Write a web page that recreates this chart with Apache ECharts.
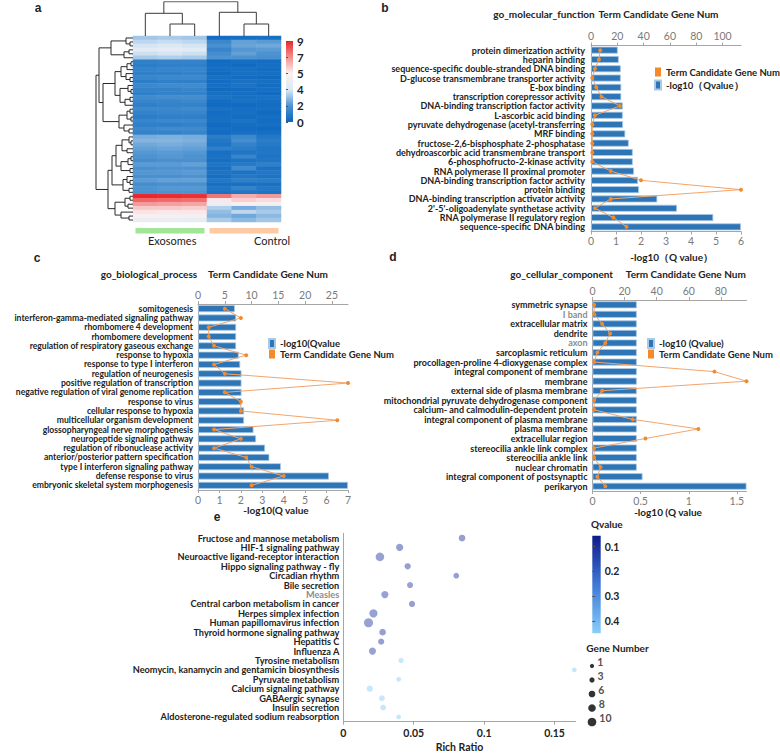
<!DOCTYPE html>
<html>
<head>
<meta charset="utf-8">
<title>Exosome enrichment figure</title>
<script src="https://cdn.jsdelivr.net/npm/echarts@6/dist/echarts.min.js"></script>
<style>
html, body { margin: 0; padding: 0; background: #fff; }
#chart { width: 780px; height: 753px; }
</style>
</head>
<body>
<div id="chart"></div>
<script>
// ---------- data ----------
// panel a: heatmap rows (Exo x3, Control x3)
const heatSamples = ['Exo1', 'Exo2', 'Exo3', 'Ctl1', 'Ctl2', 'Ctl3'];
const heatRows = [
  [3.2, 3.3, 3.2, 0.4, 0.5, 0.6],
  [3.6, 3.7, 3.6, 1.6, 2.3, 2.2],
  [3.9, 4.0, 3.9, 1.9, 2.4, 2.5],
  [4.2, 4.3, 4.2, 1.5, 2.1, 2.2],
  [3.8, 3.9, 3.8, 1.8, 2.3, 2.0],
  [3.3, 3.4, 3.3, 2.0, 2.0, 1.9],
  [1.3, 1.4, 1.4, 0.3, 0.5, 0.4],
  [1.2, 1.3, 1.3, 0.4, 0.3, 0.5],
  [1.4, 1.5, 1.5, 0.5, 0.6, 0.4],
  [1.3, 1.3, 1.4, 0.3, 0.6, 0.5],
  [1.5, 1.6, 1.6, 0.6, 0.4, 0.3],
  [1.2, 1.3, 1.3, 0.4, 0.7, 0.6],
  [1.6, 1.7, 1.7, 0.5, 0.8, 0.4],
  [1.4, 1.4, 1.5, 0.3, 0.4, 0.5],
  [1.3, 1.4, 1.4, 0.6, 0.5, 0.3],
  [1.7, 1.8, 1.8, 0.8, 0.6, 0.7],
  [1.5, 1.5, 1.6, 0.4, 0.7, 0.5],
  [1.3, 1.4, 1.4, 0.3, 0.3, 0.4],
  [1.6, 1.6, 1.7, 0.7, 0.5, 0.6],
  [1.4, 1.5, 1.5, 0.4, 0.6, 0.3],
  [1.2, 1.3, 1.3, 0.5, 0.4, 0.5],
  [1.5, 1.6, 1.6, 0.6, 0.8, 0.4],
  [1.3, 1.3, 1.4, 0.3, 0.5, 0.6],
  [1.6, 1.7, 1.7, 0.5, 0.4, 0.3],
  [1.4, 1.4, 1.5, 0.4, 0.6, 0.5],
  [2.6, 2.7, 2.6, 1.2, 1.6, 1.0],
  [2.8, 2.8, 2.7, 1.0, 1.8, 1.2],
  [2.5, 2.6, 2.5, 0.8, 1.4, 1.1],
  [2.3, 2.4, 2.3, 1.3, 1.2, 0.9],
  [2.1, 2.2, 2.1, 0.6, 0.9, 1.0],
  [2.0, 2.1, 2.0, 0.7, 1.5, 0.8],
  [1.8, 1.9, 1.9, 0.5, 0.8, 0.9],
  [2.2, 2.2, 2.3, 0.9, 1.1, 1.3],
  [1.9, 2.0, 2.0, 0.6, 1.7, 0.7],
  [2.1, 2.1, 2.2, 0.8, 0.7, 1.0],
  [1.9, 1.9, 2.0, 0.5, 1.0, 0.8],
  [2.2, 2.3, 2.3, 1.0, 1.3, 1.2],
  [1.8, 1.9, 1.9, 0.6, 0.6, 0.7],
  [2.0, 2.1, 2.1, 0.9, 1.4, 1.0],
  [1.9, 2.0, 2.0, 0.7, 0.9, 0.8],
  [9.0, 8.9, 8.8, 7.5, 6.5, 6.8],
  [7.8, 7.7, 7.6, 5.2, 5.8, 5.5],
  [6.8, 6.7, 6.6, 4.6, 4.9, 4.8],
  [5.9, 5.9, 5.8, 3.4, 2.6, 3.0],
  [5.3, 5.2, 5.2, 3.0, 3.6, 3.3],
  [4.9, 4.8, 4.8, 2.8, 2.5, 2.9],
  [4.5, 4.5, 4.4, 3.3, 2.9, 3.2]
];
const heatLegendTicks = ['0', '2', '4', '5', '7', '9'];
const heatColors = ['#0a66bf', '#2277c6', '#4d93d1', '#93bde3', '#dce9f5',
  '#fcf0f0', '#f9c5c5', '#f48f8f', '#ef5a5a', '#e9262a'];
// dendrograms: [mergeHeight, left, right], leaves are column / row indices
const topTree = [34.3, [22.7, 0, [12, 1, 2]], [23.7, 3, [12, 4, 5]]];
const leftTree = [37,
  [34,
    [22, [7, 0, [3, 1, 2]], [9, [4, 3, 4], 5]],
    [30,
      [18,
        [12, [6, [2, 6, 7], 8], [7, 9, [3, 10, 11]]],
        [13, [5, 12, [2, 13, 14]], [8, [3, 15, 16], 17]]],
      [14, [6, [3, 18, 19], [2, 20, 21]], [9, 22, [4, 23, 24]]]]],
  [25,
    [21,
      [17,
        [11, [4, 25, [2, 26, 27]], [6, 28, 29]],
        [12, [5, [2, 30, 31], 32], [3, 33, 34]]],
      [10, [6, 35, [3, 36, 37]], [4, 38, 39]]],
    [18, [8, [3, 40, 41], [5, 42, 43]], [12, 44, [4, 45, 46]]]]];
const groups = ['Exosomes', 'Control'];
const groupColors = ['#a2e596', '#fdcaa3'];

// panel b: go_molecular_function
const bTerms = ['protein dimerization activity', 'heparin binding',
  'sequence-specific double-stranded DNA binding', 'D-glucose transmembrane transporter activity',
  'E-box binding', 'transcription corepressor activity', 'DNA-binding transcription factor activity',
  'L-ascorbic acid binding', 'pyruvate dehydrogenase (acetyl-transferring', 'MRF binding',
  'fructose-2,6-bisphosphate 2-phosphatase', 'dehydroascorbic acid transmembrane transport',
  '6-phosphofructo-2-kinase activity', 'RNA polymerase II proximal promoter',
  'DNA-binding transcription factor activity', 'protein binding',
  'DNA-binding transcription activator activity', "2'-5'-oligoadenylate synthetase activity",
  'RNA polymerase II regulatory region', 'sequence-specific DNA binding'];
const bQ = [1.07, 1.11, 1.19, 1.19, 1.21, 1.21, 1.27, 1.27, 1.28, 1.37,
  1.51, 1.67, 1.67, 1.72, 1.88, 1.92, 2.65, 3.44, 4.89, 6.0];
const bGenes = [7, 6, 3, 1, 4, 8, 22, 3, 1, 1, 1, 1, 1, 15, 38, 114, 15, 3, 17, 27];

// panel c: go_biological_process
const cTerms = ['somitogenesis', 'interferon-gamma-mediated signaling pathway',
  'rhombomere 4 development', 'rhombomere development', 'regulation of respiratory gaseous exchange',
  'response to hypoxia', 'response to type I interferon', 'regulation of neurogenesis',
  'positive regulation of transcription', 'negative regulation of viral genome replication',
  'response to virus', 'cellular response to hypoxia', 'multicellular organism development',
  'glossopharyngeal nerve morphogenesis', 'neuropeptide signaling pathway',
  'regulation of ribonuclease activity', 'anterior/posterior pattern specification',
  'type I interferon signaling pathway', 'defense response to virus',
  'embryonic skeletal system morphogenesis'];
const cQ = [1.72, 1.78, 1.78, 1.78, 1.78, 1.9, 1.97, 2.03, 2.03, 2.03,
  2.03, 2.15, 2.15, 2.59, 2.71, 3.13, 3.33, 3.87, 6.11, 7.0];
const cGenes = [5, 8, 2, 2, 3, 9, 3, 5, 28, 5, 8, 8, 26, 3, 8, 3, 9, 10, 16, 10];

// panel d: go_cellular_component
const dTerms = ['symmetric synapse', 'I band', 'extracellular matrix', 'dendrite', 'axon',
  'sarcoplasmic reticulum', 'procollagen-proline 4-dioxygenase complex',
  'integral component of membrane', 'membrane', 'external side of plasma membrane',
  'mitochondrial pyruvate dehydrogenase component', 'calcium- and calmodulin-dependent protein',
  'integral component of plasma membrane', 'plasma membrane', 'extracellular region',
  'stereocilia ankle link complex', 'stereocilia ankle link', 'nuclear chromatin',
  'integral component of postsynaptic', 'perikaryon'];
const dQ = [0.46, 0.46, 0.46, 0.46, 0.46, 0.46, 0.46, 0.46, 0.46, 0.46,
  0.46, 0.46, 0.46, 0.46, 0.46, 0.46, 0.46, 0.46, 0.52, 1.6];
const dGenes = [1, 1, 6, 11, 8, 3, 1, 76, 96, 6, 1, 1, 25, 66, 33, 1, 1, 5, 3, 8];
const dGreyTerms = ['I band', 'axon'];

// panel e: KEGG bubbles
const ePaths = ['Fructose and mannose metabolism', 'HIF-1 signaling pathway',
  'Neuroactive ligand-receptor interaction', 'Hippo signaling pathway - fly', 'Circadian rhythm',
  'Bile secretion', 'Measles', 'Central carbon metabolism in cancer', 'Herpes simplex infection',
  'Human papillomavirus infection', 'Thyroid hormone signaling pathway', 'Hepatitis C',
  'Influenza A', 'Tyrosine metabolism', 'Neomycin, kanamycin and gentamicin biosynthesis',
  'Pyruvate metabolism', 'Calcium signaling pathway', 'GABAergic synapse', 'Insulin secretion',
  'Aldosterone-regulated sodium reabsorption'];
const eRatio = [0.0843, 0.040, 0.026, 0.0457, 0.0802, 0.0474, 0.0295, 0.0488, 0.0214, 0.0179,
  0.0279, 0.0269, 0.0207, 0.041, 0.164, 0.0393, 0.0188, 0.0274, 0.0283, 0.0393];
const eGenes = [6, 7, 10, 5, 4, 5, 7, 5, 9, 11, 6, 5, 7, 3, 2, 2, 5, 4, 4, 2];
const eQvalue = [0.09, 0.09, 0.1, 0.09, 0.09, 0.1, 0.1, 0.09, 0.1, 0.1,
  0.09, 0.09, 0.1, 0.44, 0.44, 0.44, 0.44, 0.44, 0.44, 0.44];
const eGreyPaths = ['Measles'];
const qTicks = [0.1, 0.2, 0.3, 0.4];
const geneLegend = [1, 3, 6, 8, 10];

// ---------- helpers ----------
const FONT = "Lato, 'DejaVu Sans Condensed', sans-serif";
const TXT = '#222';
const AXIS = '#a6a6a6';
const BLUE = '#2e75b6';
const ORANGE = '#f58a2a';

function dendroLinks(node, out) {
  if (typeof node === 'number') return { pos: node, h: 0 };
  const a = dendroLinks(node[1], out);
  const b = dendroLinks(node[2], out);
  out.push([[a.pos, a.h], [a.pos, node[0]], [b.pos, node[0]], [b.pos, b.h]]);
  return { pos: (a.pos + b.pos) / 2, h: node[0] };
}
const topLinks = [];
dendroLinks(topTree, topLinks);
const leftLinks = [];
dendroLinks(leftTree, leftLinks);

const heatData = [];
heatRows.forEach((row, r) => row.forEach((v, c) => heatData.push([c, r, v])));

const geneSize = n => 3.8 + 0.48 * n;

function txt(text, x, y, extra) {
  return {
    type: 'text', x: x, y: y, silent: true,
    style: Object.assign({
      text: text, fill: TXT, fontFamily: FONT, fontSize: 10, fontWeight: 'bold',
      align: 'center', verticalAlign: 'middle', textAlign: 'center', textVerticalAlign: 'middle'
    }, extra || {})
  };
}

const numLabel = { fontFamily: FONT, fontSize: 10.5, color: '#7a7a7a' };

function termAxis(grid, terms, margin, size, grey) {
  return {
    gridIndex: grid, type: 'category', data: terms, inverse: true,
    axisLine: { lineStyle: { color: AXIS } },
    axisTick: { alignWithLabel: true, length: 3, lineStyle: { color: AXIS } },
    axisLabel: {
      fontFamily: FONT, fontSize: size, fontWeight: 'bold',
      margin: margin, interval: 0,
      color: grey ? (v => grey.indexOf(v) >= 0 ? '#8c8c8c' : TXT) : TXT
    }
  };
}
function valAxis(grid, pos, max, interval, hideMax) {
  return {
    gridIndex: grid, type: 'value', position: pos, min: 0, max: max, interval: interval,
    splitLine: { show: false },
    axisLine: { show: true, lineStyle: { color: AXIS } },
    axisTick: { show: true, length: 3, lineStyle: { color: AXIS } },
    axisLabel: Object.assign({}, numLabel, { margin: 4, showMaxLabel: !hideMax })
  };
}
function barSeries(name, x, y, data) {
  return {
    type: 'bar', name: name, xAxisIndex: x, yAxisIndex: y, data: data, barWidth: 7,
    itemStyle: { color: BLUE, borderColor: '#a9c9e6', borderWidth: 0.8 }
  };
}
function lineSeries(x, y, data) {
  return {
    type: 'line', name: 'Term Candidate Gene Num', xAxisIndex: x, yAxisIndex: y, data: data,
    symbol: 'circle', symbolSize: 4, z: 3,
    lineStyle: { color: '#f2a56c', width: 1 },
    itemStyle: { color: ORANGE }
  };
}
function legendAt(names, left, top, lh) {
  return {
    data: names, left: left, top: top, orient: 'vertical', icon: 'rect', padding: 0,
    itemWidth: 6, itemHeight: 9, itemGap: 0, selectedMode: false,
    textStyle: { fontFamily: FONT, fontSize: 9.5, fontWeight: 'bold', color: TXT, lineHeight: lh }
  };
}
function gridAt(box) {
  return Object.assign({ outerBoundsMode: 'none', containLabel: false }, box);
}

// colour bars: gradient stops must run top (offset 0) to bottom (offset 1)
const heatGradient = {
  type: 'linear', x: 0, y: 0, x2: 0, y2: 1,
  colorStops: heatLegendTicks.slice().reverse().map((t, i) => ({
    offset: i / (heatLegendTicks.length - 1), color: heatColors[+t]
  }))
};
const qGradient = {
  type: 'linear', x: 0, y: 0, x2: 0, y2: 1,
  colorStops: [{ offset: 0, color: '#0d1a8c' }, { offset: 0.5, color: '#3f78d6' }, { offset: 1, color: '#87cefa' }]
};

const chart = echarts.init(document.getElementById('chart'), null, { renderer: 'svg' });

const option = {
  animation: false,
  backgroundColor: '#fff',
  grid: [
    gridAt({ left: 133, top: 36, width: 148, height: 186 }),              // 0 heatmap
    gridAt({ left: 133, top: 1.7, width: 148, height: 34.3 }),            // 1 top dendrogram
    gridAt({ left: 96, top: 36, width: 37, height: 186 }),                // 2 left dendrogram
    gridAt({ left: 286, top: 41, width: 7, height: 81, show: true, borderWidth: 0, backgroundColor: heatGradient }),
    gridAt({ left: 133, top: 228, width: 148, height: 5.5 }),             // 4 group bars
    gridAt({ left: 591, top: 45.5, width: 150, height: 186 }),            // 5 panel b
    gridAt({ left: 198, top: 304, width: 150, height: 186 }),             // 6 panel c
    gridAt({ left: 592.5, top: 300, width: 154, height: 191 }),           // 7 panel d
    gridAt({ left: 343.3, top: 533.3, width: 232.4, height: 188.4 }),     // 8 panel e
    gridAt({ left: 592.3, top: 535.7, width: 8.4, height: 97.6, show: true, borderWidth: 0, backgroundColor: qGradient }),
    gridAt({ left: 584, top: 659, width: 16, height: 70 })                // 10 gene legend
  ],
  xAxis: [
    { gridIndex: 0, type: 'category', data: heatSamples, show: false },
    { gridIndex: 1, type: 'value', min: -0.5, max: 5.5, show: false },
    { gridIndex: 2, type: 'value', min: 0, max: 37, inverse: true, show: false },
    { gridIndex: 3, type: 'value', show: false },
    { gridIndex: 4, type: 'category', data: groups, show: false },
    valAxis(5, 'bottom', 6, 1, false),
    valAxis(5, 'top', 114, 20, true),
    valAxis(6, 'bottom', 7, 1, false),
    valAxis(6, 'top', 28, 5, true),
    valAxis(7, 'bottom', 1.6, 0.5, true),
    valAxis(7, 'top', 96, 20, true),
    Object.assign(valAxis(8, 'bottom', 0.165, 0.05, true), {
      axisLabel: { fontFamily: FONT, fontSize: 10.5, fontWeight: 'bold', color: TXT, margin: 6, showMaxLabel: false },
      name: 'Rich Ratio', nameLocation: 'middle', nameGap: 20,
      nameTextStyle: { fontFamily: FONT, fontSize: 10.5, fontWeight: 'bold', color: TXT }
    }),
    { gridIndex: 9, type: 'value', show: false },
    { gridIndex: 10, type: 'value', min: -1, max: 1, show: false }
  ],
  yAxis: [
    { gridIndex: 0, type: 'category', data: heatRows.map((r, i) => i), inverse: true, show: false },
    { gridIndex: 1, type: 'value', min: 0, max: 34.3, show: false },
    { gridIndex: 2, type: 'value', min: -0.5, max: heatRows.length - 0.5, inverse: true, show: false },
    {
      gridIndex: 3, type: 'category', data: heatLegendTicks, boundaryGap: false, position: 'right',
      axisLine: { show: false },
      axisTick: { show: true, length: 2, lineStyle: { color: '#555' } },
      axisLabel: { fontFamily: FONT, fontSize: 11.5, fontWeight: 'bold', color: TXT, margin: 4 }
    },
    { gridIndex: 4, type: 'value', min: 0, max: 1, show: false },
    termAxis(5, bTerms, 6, 9),
    termAxis(6, cTerms, 5, 8.6),
    termAxis(7, dTerms, 5, 9, dGreyTerms),
    termAxis(8, ePaths, 4, 9.2, eGreyPaths),
    {
      gridIndex: 9, type: 'value', min: 0.056, max: 0.45, inverse: true, position: 'right',
      splitLine: { show: false }, axisLine: { show: false },
      axisTick: { show: true, length: 3, customValues: qTicks, lineStyle: { color: '#555' } },
      axisLabel: { customValues: qTicks, fontFamily: FONT, fontSize: 10.5, fontWeight: 'bold', color: TXT, margin: 4 }
    },
    { gridIndex: 10, type: 'category', data: geneLegend.map(String), inverse: true, show: false }
  ],
  visualMap: [
    { type: 'continuous', show: false, seriesIndex: 0, min: 0, max: 9, inRange: { color: heatColors } },
    { type: 'continuous', show: false, seriesIndex: 10, dimension: 3, min: 0.056, max: 0.45,
      inRange: { color: ['#0d1a8c', '#3f78d6', '#87cefa'] } }
  ],
  legend: [
    legendAt(['Term Candidate Gene Num', '-log10（Qvalue）'], 654, 65.5, 13),
    legendAt(['-log10(Qvalue', 'Term Candidate Gene Num'], 268, 338, 10),
    legendAt(['-log10 (Qvalue)', 'Term Candidate Gene Num'], 647, 338, 9)
  ],
  series: [
    { type: 'heatmap', xAxisIndex: 0, yAxisIndex: 0, data: heatData, itemStyle: { borderWidth: 0 } },
    { type: 'lines', coordinateSystem: 'cartesian2d', xAxisIndex: 1, yAxisIndex: 1, polyline: true,
      data: topLinks.map(c => ({ coords: c })), lineStyle: { color: '#3a3a3a', width: 1, opacity: 1 } },
    { type: 'lines', coordinateSystem: 'cartesian2d', xAxisIndex: 2, yAxisIndex: 2, polyline: true,
      data: leftLinks.map(c => ({ coords: c.map(p => [p[1], p[0]]) })),
      lineStyle: { color: '#2a2a2a', width: 1, opacity: 1 } },
    { type: 'bar', xAxisIndex: 4, yAxisIndex: 4, barWidth: 69,
      data: groups.map((g, i) => ({ value: 1, itemStyle: { color: groupColors[i] } })) },
    barSeries('-log10（Qvalue）', 5, 5, bQ),
    lineSeries(6, 5, bGenes),
    barSeries('-log10(Qvalue', 7, 6, cQ),
    lineSeries(8, 6, cGenes),
    barSeries('-log10 (Qvalue)', 9, 7, dQ),
    lineSeries(10, 7, dGenes),
    {
      type: 'scatter', xAxisIndex: 11, yAxisIndex: 8,
      data: ePaths.map((p, i) => [eRatio[i], i, eGenes[i], eQvalue[i]]),
      symbolSize: d => geneSize(d[2]),
      itemStyle: { opacity: 0.45 }
    },
    {
      type: 'scatter', xAxisIndex: 13, yAxisIndex: 10,
      data: geneLegend.map((g, i) => [0, i, g]),
      symbolSize: d => geneSize(d[2]),
      itemStyle: { color: '#000' },
      label: {
        show: true, position: 'right', distance: 3, offset: [0, -4],
        formatter: p => p.data[2],
        fontFamily: FONT, fontSize: 10.5, fontWeight: 'bold', color: TXT
      }
    }
  ],
  graphic: [
    txt('a', 38, 8, { fontFamily: 'Liberation Sans', fontSize: 12 }),
    txt('b', 385, 8, { fontFamily: 'Liberation Sans', fontSize: 12 }),
    txt('c', 37, 258, { fontFamily: 'Liberation Sans', fontSize: 12 }),
    txt('d', 393, 257, { fontFamily: 'Liberation Sans', fontSize: 12 }),
    txt('e', 217, 517, { fontFamily: 'Liberation Sans', fontSize: 12 }),
    txt('go_molecular_function', 544, 13.5),
    txt('Term Candidate Gene Num', 658.5, 13.5),
    txt('go_biological_process', 149, 274.3),
    txt('Term Candidate Gene Num', 268, 274.3),
    txt('go_cellular_component', 561.7, 274.3),
    txt('Term Candidate Gene Num', 685.8, 274.3),
    txt('-log10（Q value）', 671.7, 256.7),
    txt('-log10(Q value', 276, 510),
    txt('-log10 (Q value', 668, 512),
    txt('Exosomes', 172.2, 240, { fontWeight: 'normal', fontSize: 11 }),
    txt('Control', 272, 240, { fontWeight: 'normal', fontSize: 11 }),
    txt('Qvalue', 606.8, 524),
    txt('Gene Number', 617.5, 648.3)
  ]
};

chart.setOption(option);
</script>
</body>
</html>
